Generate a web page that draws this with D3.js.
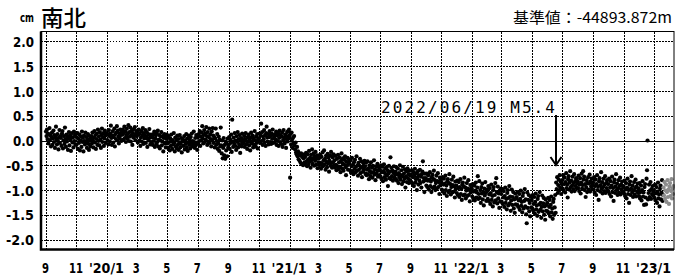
<!DOCTYPE html>
<html>
<head>
<meta charset="utf-8">
<script src="https://cdn.jsdelivr.net/npm/d3@7"></script>
<style>
  body { margin: 0; background: #fff; }
  svg { display: block; }
  text { font-family: "Noto Sans CJK JP", "Noto Sans", sans-serif; fill: #000; }
</style>
</head>
<body>
<svg width="675" height="278"></svg>
<script>
// 南北 component, daily values in 0.01 cm, one row per month
const ns2019 = [ // from 2019/09
  [18,9,22,3,14,-6,12,25,1,10,-12,7,16,-9,4,20,-3,11,-15,8,28,2,-8,13,-1,-18,6,21,-5,9],
  [5,-11,14,19,-16,0,9,-7,26,3,-13,12,-2,8,-19,4,17,-10,10,1,-21,7,15,-4,6,-14,18,-1,11,-8,13],
  [-9,6,15,-17,3,-5,12,-20,0,8,-13,18,-3,5,-22,10,-1,-8,16,-4,7,-15,2,13,-7,-19,9,1,-12,4],
  [9,-6,16,0,-14,6,19,-4,11,-17,3,14,-9,22,-1,8,-10,17,2,-15,12,24,-3,7,15,-11,4,20,10,-5,13]
];
const ns2020 = [
  [15,1,12,-8,21,9,-2,14,30,5,-9,10,19,-4,7,24,-12,13,3,16,29,0,20,8,-6,14,4,22,11,-1,17],
  [12,22,2,15,28,5,18,-3,10,24,4,14,31,-1,17,8,26,-2,11,20,-9,15,6,23,9,27,1,13,19],
  [9,18,-4,12,22,0,14,-11,6,19,-2,10,25,-7,15,4,11,21,-5,8,17,-13,3,13,0,23,6,-8,12,-3,10],
  [6,-9,13,-1,18,-13,4,10,-7,15,-3,20,-12,2,11,-16,0,8,17,-10,-2,9,-22,5,13,-6,7,-14,3,12],
  [-6,5,-15,9,-3,-20,4,-11,12,-2,-17,1,-8,15,-5,-22,6,-12,0,-16,10,-9,3,-19,-4,11,-14,-7,5,-24,-1],
  [3,-11,-2,9,-18,0,-7,13,-14,4,-21,-4,10,-9,1,-16,7,-5,14,-12,-1,-8,18,-3,-15,5,-10,11,-4,-19],
  [6,-7,13,-1,19,-11,8,0,16,29,4,-6,11,21,-3,14,2,27,9,-9,17,-2,7,24,-5,12,3,-12,18,1,25],
  [10,-5,7,-14,4,24,-9,-1,13,-17,-6,8,-21,2,-12,26,-10,-26,0,-36,-15,5,-30,-9,-37,-2,-20,-6,-32,4,-14],
  [-9,7,-17,2,-5,12,-23,42,-2,-13,6,-7,15,-11,0,-19,9,-3,17,-14,3,-8,11,-25,-1,5,-12,14,-6,1],
  [-5,9,-13,3,15,-8,-1,-17,7,-3,12,-10,2,-20,6,16,-6,-2,10,-14,4,-9,19,0,-12,8,-5,13,-16,3,-2],
  [5,14,-5,10,34,-1,17,-9,8,2,21,-4,11,-11,15,28,6,-2,13,-8,7,19,-3,9,-7,14,3,22,-5,11],
  [7,-4,13,2,18,-9,10,-1,15,-11,5,20,-3,11,-7,8,16,-13,1,21,6,-6,12,3,-15,9,17,-2,19,4,22]
];
const ns2021 = [
  [10,-75,14,-8,16,2,-15,6,-5,9,-10,-18,-4,-24,-28,-13,-32,-22,-38,-27,-41,-30,-45,-26,-47,-33,-29,-50,-36,-28,-44],
  [-33,-46,-25,-42,-52,-28,-38,-49,-21,-43,-35,-55,-29,-40,-18,-47,-36,-26,-51,-32,-41,-23,-49,-37,-30,-56,-34,-44],
  [-36,-50,-29,-45,-57,-33,-47,-24,-52,-40,-20,-48,-37,-59,-31,-43,-54,-27,-46,-35,-63,-41,-30,-51,-23,-45,-55,-34,-44,-28,-50],
  [-40,-55,-31,-49,-60,-37,-52,-29,-58,-44,-34,-53,-64,-41,-26,-56,-46,-36,-61,-48,-39,-32,-54,-70,-43,-51,-35,-59,-45,-38],
  [-47,-60,-40,-65,-52,-35,-62,-49,-68,-44,-57,-39,-64,-53,-32,-61,-50,-71,-45,-59,-51,-37,-66,-55,-42,-74,-53,-63,-46,-58,-41],
  [-53,-67,-45,-70,-59,-42,-68,-56,-78,-50,-62,-72,-44,-65,-55,-75,-51,-64,-40,-69,-58,-80,-52,-67,-60,-47,-73,-61,-54,-70],
  [-59,-73,-50,-77,-64,-53,-82,-62,-48,-74,-66,-56,-79,-54,-71,-60,-92,-67,-51,-76,-63,-34,-78,-55,-72,-61,-81,-65,-52,-75,-68],
  [-63,-78,-54,-81,-69,-57,-86,-66,-74,-50,-79,-70,-60,-88,-72,-53,-83,-67,-77,-58,-95,-73,-62,-84,-56,-76,-68,-86,-61,-80,-71],
  [-69,-84,-60,-87,-74,-64,-92,-71,-57,-85,-78,-66,-100,-75,-62,-89,-70,-81,-59,-86,-73,-95,-68,-63,-42,-83,-76,-104,-67,-80],
  [-76,-91,-67,-94,-81,-70,-99,-79,-64,-92,-83,-104,-74,-69,-96,-78,-61,-93,-80,-100,-86,-71,-97,-82,-66,-94,-84,-108,-75,-90,-79],
  [-84,-99,-74,-102,-89,-77,-107,-87,-71,-100,-91,-112,-82,-78,-104,-86,-68,-101,-88,-109,-94,-79,-105,-90,-73,-103,-93,-115,-83,-98],
  [-91,-106,-81,-110,-96,-84,-114,-94,-78,-108,-98,-120,-89,-85,-111,-93,-75,-109,-95,-117,-101,-86,-112,-97,-80,-110,-100,-123,-90,-105,-96]
];
const ns2022 = [
  [-98,-113,-88,-117,-103,-91,-121,-101,-85,-115,-105,-95,-72,-118,-108,-82,-116,-100,-126,-94,-107,-87,-119,-104,-131,-97,-111,-84,-106,-122,-99],
  [-102,-118,-92,-122,-109,-96,-128,-106,-89,-120,-112,-133,-100,-94,-125,-110,-86,-121,-76,-104,-127,-93,-117,-107,-136,-101,-123,-97],
  [-108,-124,-98,-128,-115,-102,-134,-112,-95,-126,-118,-139,-106,-100,-131,-116,-92,-127,-113,-142,-121,-99,-130,-114,-104,-137,-119,-146,-107,-129,-117],
  [-114,-130,-104,-134,-121,-108,-140,-118,-101,-132,-124,-145,-112,-106,-137,-122,-98,-133,-119,-149,-167,-105,-136,-120,-110,-143,-126,-153,-113,-135],
  [-120,-137,-110,-141,-128,-114,-147,-124,-107,-139,-131,-152,-118,-112,-144,-129,-104,-140,-126,-156,-134,-111,-143,-127,-116,-150,-133,-160,-119,-142,-130],
  [-126,-143,-116,-147,-134,-120,-153,-130,-113,-145,-137,-158,-124,-118,-150,-135,-110,-146,
   -85,-98,-74,-106,-90,-79,-101,-70,-95,-83,-108,-88],
  [-80,-97,-70,-101,-88,-75,-105,-84,-66,-96,-89,-115,-78,-72,-99,-85,-62,-94,-81,-103,-91,-73,-98,-86,-68,-102,-82,-92,-76,-96,-87],
  [-82,-96,-71,-102,-89,-76,-107,-85,-67,-97,-90,-62,-79,-73,-100,-88,-114,-94,-80,-104,-86,-74,-99,-87,-69,-103,-83,-93,-77,-98,-89],
  [-85,-99,-74,-105,-92,-79,-110,-88,-70,-100,-93,-120,-82,-76,-103,-90,-64,-97,-84,-107,-94,-77,-102,-89,-72,-106,-86,-96,-80,-101],
  [-88,-103,-77,-108,-95,-82,-113,-91,-73,-104,-96,-122,-85,-79,-106,-93,-68,-100,-87,-110,-97,-80,-105,-92,-75,-109,-89,-99,-83,-104,-94],
  [-92,-107,-81,-112,-99,-86,-117,-95,-77,-108,-100,-126,-89,-83,-110,-97,-72,-104,-91,-114,-101,-84,-109,-96,-79,-113,-93,-103,-87,-106],
  [-97,-112,-86,-117,-104,-91,-121,-100,-82,-113,-105,-130,-94,-88,-115,-129,-77,-60,0,-119,-106,-89,-114,-101,-84,-118,-98,-108,-92,-111,-103]
];
const ns2023 = [ // final solution, 2023/01/01 - 01/19
  [-100,-116,-89,-121,-107,-94,-126,-103,-85,-117,-109,-133,-97,-91,-119,-105,-80,-122,-110]
];
const nsRapid = [ // rapid solution from 2023/01/20 (grey)
  -95,-111,-84,-118,-101,-89,-124,-104,-80,-114,-99,-128,-93,-86,-112,-102,-78,-117,-97,-108,-92
];

const yTicks = [2.0, 1.5, 1.0, 0.5, 0.0, -0.5, -1.0, -1.5, -2.0];
const yTickLabels = ["2.0", "1.5", "1.0", "0.5", "0.0", "-0.5", "-1.0", "-1.5", "-2.0"];
const xTickLabels = ["9", "11", "'20/1", "3", "5", "7", "9", "11", "'21/1", "3", "5", "7",
                     "9", "11", "'22/1", "3", "5", "7", "9", "11", "'23/1"];

const title = "南北";
const unit = "cm";
const refText = "基準値：-44893.872m";
const quakeDate = Date.UTC(2022, 5, 19);
const quakeText = "2022/06/19 M5.4";

function toPoints(rows, year, startMonth, startDay) {
    const pts = [];
    rows.forEach((row, m) => {
        row.forEach((v, d) => {
            pts.push({ date: new Date(Date.UTC(year, startMonth + m, (m === 0 ? startDay : 1) + d)), value: v / 100 });
        });
    });
    return pts;
}

const finalPts = [].concat(
    toPoints(ns2019, 2019, 8, 1),
    toPoints(ns2020, 2020, 0, 1),
    toPoints(ns2021, 2021, 0, 1),
    toPoints(ns2022, 2022, 0, 1),
    toPoints(ns2023, 2023, 0, 1)
);
const rapidPts = toPoints([nsRapid], 2023, 0, 20);

const plotL = 41, plotR = 674, plotT = 31.5, plotB = 249.5;
const digitFont = "'DejaVu Sans', sans-serif";

const svg = d3.select("svg");

const xScale = d3.scaleUtc()
    .domain([new Date(Date.UTC(2019, 7, 22)), new Date(Date.UTC(2023, 1, 10))])
    .range([plotL, plotR]);
const yScale = d3.scaleLinear().domain([-2.2, 2.2]).range([plotB, plotT]);

const tickDates = xTickLabels.map((t, i) => new Date(Date.UTC(2019, 8 + 2 * i, 1)));

// dotted grid
const gx = svg.append("g")
    .attr("transform", "translate(0," + plotB + ")")
    .call(d3.axisBottom(xScale).tickValues(tickDates).tickSize(-(plotB - plotT)).tickFormat(""));
const gy = svg.append("g")
    .attr("transform", "translate(" + plotL + ",0)")
    .call(d3.axisLeft(yScale).tickValues(yTicks.filter(v => v !== 0)).tickSize(-(plotR - plotL)).tickFormat(""));
[gx, gy].forEach(g => {
    g.select(".domain").remove();
    g.selectAll(".tick line")
        .attr("stroke", "#000")
        .attr("stroke-width", 1)
        .attr("stroke-dasharray", "1.5,1.5")
        .attr("shape-rendering", "crispEdges");
});

// zero line
svg.append("line")
    .attr("x1", plotL).attr("x2", plotR)
    .attr("y1", Math.round(yScale(0)) + 0.5).attr("y2", Math.round(yScale(0)) + 0.5)
    .attr("stroke", "#000").attr("stroke-width", 1);

// points
svg.append("g").selectAll("circle")
    .data(finalPts)
    .join("circle")
    .attr("cx", d => xScale(d.date))
    .attr("cy", d => yScale(d.value))
    .attr("r", 2.1)
    .attr("fill", "#000");
svg.append("g").selectAll("circle")
    .data(rapidPts)
    .join("circle")
    .attr("cx", d => xScale(d.date))
    .attr("cy", d => yScale(d.value))
    .attr("r", 2.1)
    .attr("fill", "#8c8c8c");

// frame
svg.append("rect")
    .attr("x", plotL).attr("y", plotT)
    .attr("width", plotR - plotL).attr("height", plotB - plotT)
    .attr("fill", "none").attr("stroke", "#000").attr("stroke-width", 1);
svg.append("path")
    .attr("d", "M" + plotL + "," + plotT + "V" + plotB + "H" + plotR)
    .attr("fill", "none").attr("stroke", "#000").attr("stroke-width", 2.5);

// tick labels
const xLab = svg.append("g")
    .attr("transform", "translate(0," + plotB + ")")
    .call(d3.axisBottom(xScale).tickValues(tickDates).tickSize(0).tickPadding(0)
        .tickFormat((d, i) => xTickLabels[i]));
xLab.select(".domain").remove();
xLab.selectAll(".tick text")
    .attr("y", 23)
    .attr("dy", 0)
    .attr("x", -1)
    .style("font-size", "14px")
    .style("font-weight", "bold")
    .style("font-family", digitFont)
    .attr("textLength", (d, i) => xTickLabels[i].length * 7)
    .attr("lengthAdjust", "spacingAndGlyphs");

const yLab = svg.append("g")
    .attr("transform", "translate(" + plotL + ",0)")
    .call(d3.axisLeft(yScale).tickValues(yTicks).tickSize(0).tickPadding(7)
        .tickFormat((d, i) => yTickLabels[i]));
yLab.select(".domain").remove();
yLab.selectAll(".tick text")
    .attr("dy", "0.36em")
    .style("font-size", "14px")
    .style("font-weight", "bold")
    .style("font-family", digitFont)
    .attr("textLength", (d, i) => yTickLabels[i].length * 7)
    .attr("lengthAdjust", "spacingAndGlyphs");

// titles
svg.append("text")
    .attr("x", 20).attr("y", 22)
    .attr("textLength", 14).attr("lengthAdjust", "spacingAndGlyphs")
    .style("font-size", "13px").style("font-weight", "bold")
    .style("font-family", digitFont)
    .text(unit);
svg.append("text")
    .attr("x", 41).attr("y", 26)
    .attr("textLength", 45).attr("lengthAdjust", "spacingAndGlyphs")
    .style("font-size", "22px").style("font-weight", "500")
    .text(title);
svg.append("text")
    .attr("x", 672).attr("y", 23)
    .attr("text-anchor", "end")
    .attr("textLength", 159).attr("lengthAdjust", "spacingAndGlyphs")
    .style("font-size", "15px")
    .text(refText);

// earthquake marker
const qx = Math.round(xScale(new Date(quakeDate)));
svg.append("text")
    .attr("x", qx - 175).attr("y", 113)
    .attr("textLength", 174).attr("lengthAdjust", "spacing")
    .style("font-size", "16px")
    .style("font-family", "'DejaVu Sans Mono', monospace")
    .text(quakeText);
svg.append("path")
    .attr("d", "M" + qx + ",115V164")
    .attr("stroke", "#000").attr("stroke-width", 2).attr("fill", "none");
svg.append("path")
    .attr("d", "M" + (qx - 5.5) + ",157L" + qx + ",165L" + (qx + 5.5) + ",157")
    .attr("stroke", "#000").attr("stroke-width", 2).attr("fill", "none");
</script>
</body>
</html>
